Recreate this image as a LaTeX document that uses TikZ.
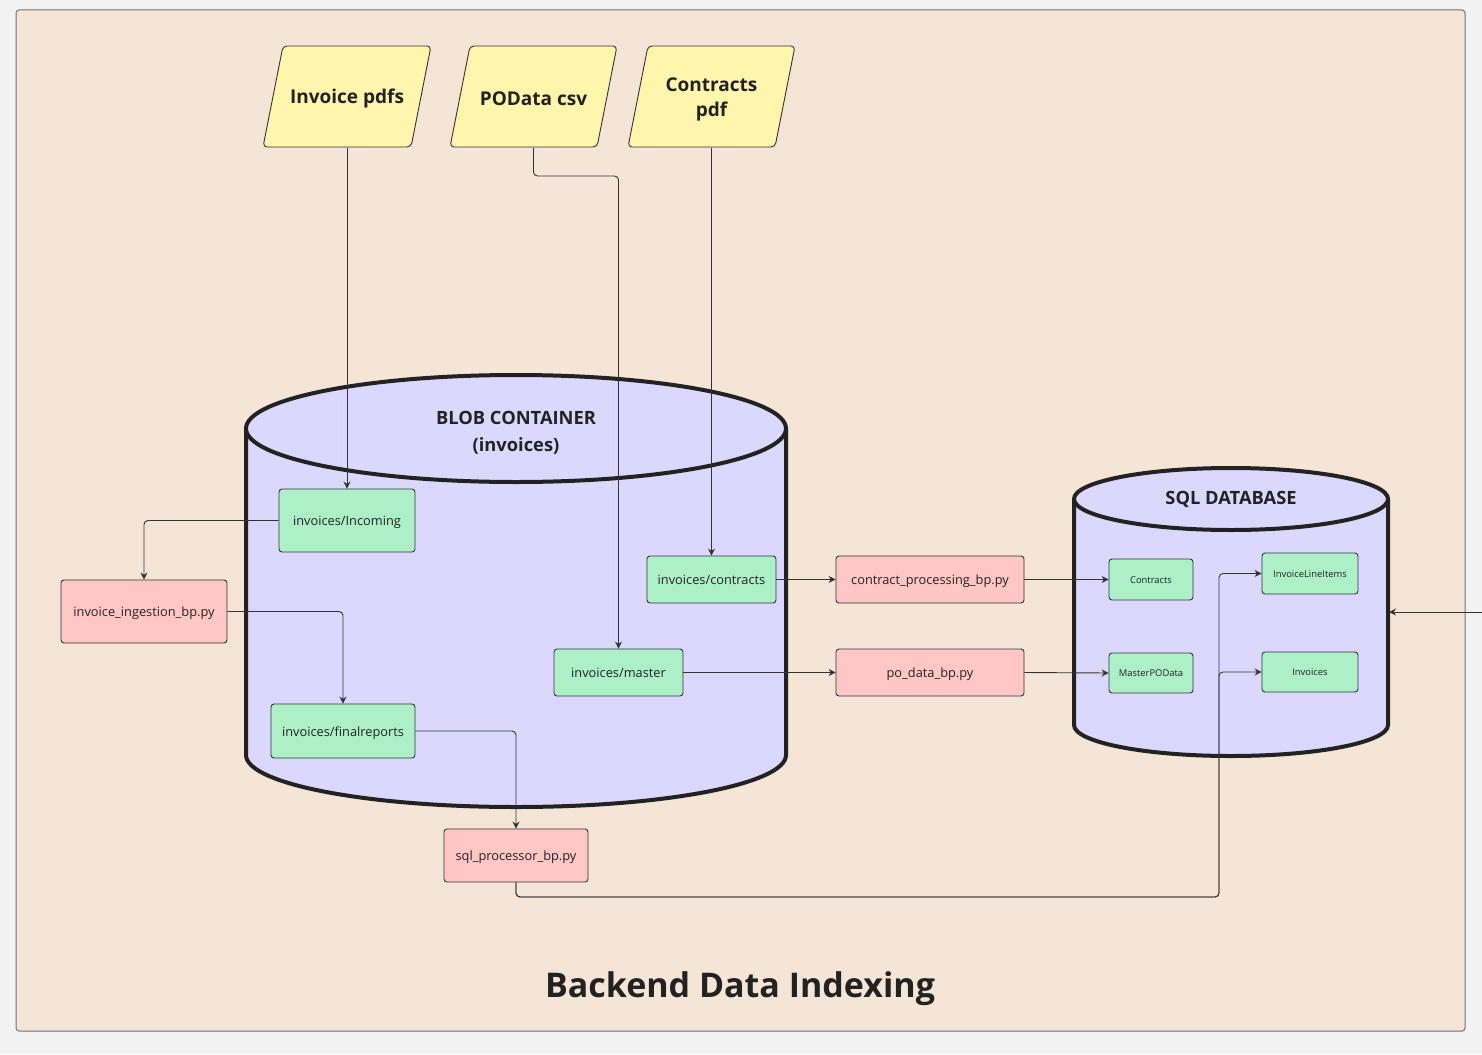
\documentclass[tikz,border=0pt]{standalone}
\usepackage{fontspec}
\setmainfont{Open Sans}
\usetikzlibrary{arrows.meta}
\definecolor{bg}{HTML}{F2F2F2}
\definecolor{framefill}{HTML}{F5E5D7}
\definecolor{lav}{HTML}{DCD8FD}
\definecolor{grn}{HTML}{ADF0C8}
\definecolor{pnk}{HTML}{FFC6C6}
\definecolor{yel}{HTML}{FFF5AD}
\definecolor{ln}{HTML}{333333}
\definecolor{txt}{HTML}{222222}
\tikzset{
  box/.style={draw=ln, rounded corners=3pt, line width=0.9pt, inner sep=0pt, text=txt,
    font=\fontsize{12.8}{15}\selectfont, text height=11pt, text depth=0.5pt},
  gbox/.style={box, fill=grn},
  pbox/.style={box, fill=pnk},
  sbox/.style={gbox, font=\fontsize{9.4}{11}\selectfont, text height=8pt, text depth=0.5pt},
  para/.style={draw=ln, fill=yel, line width=0.9pt, rounded corners=4pt},
  ptext/.style={inner sep=0pt, minimum width=148pt, minimum height=98pt, align=center,
    text=txt, font=\bfseries\fontsize{19}{25}\selectfont},
  arr/.style={draw=ln, line width=0.9pt, rounded corners=4pt, -{Stealth[length=7pt,width=7pt]}},
  cyl/.style={draw=txt, fill=lav, line width=4pt},
  big/.style={text=txt, font=\bfseries\fontsize{18.3}{27}\selectfont, align=center}
}
\begin{document}
\begin{tikzpicture}[x=1pt,y=-1pt]
\useasboundingbox (0,0) rectangle (1482,1054);
\fill[bg] (0,0) rectangle (1482,1054);
\draw[fill=framefill, draw=ln!70, line width=1pt, rounded corners=3pt] (16,10) rectangle (1465,1031);

% Blob cylinder
\fill[lav] (246,428) -- (246,755) arc[start angle=180,end angle=360,x radius=270pt,y radius=52pt] -- (786,428) -- cycle;
\draw[cyl, fill=none] (246,428) -- (246,755) arc[start angle=180,end angle=360,x radius=270pt,y radius=52pt] -- (786,428);
\draw[cyl] (516,428.5) ellipse[x radius=270pt, y radius=53.5pt];
\node[big] (blobtitle) at (516,433) {BLOB CONTAINER\\(invoices)};

% SQL cylinder
\fill[lav] (1074,499) -- (1074,725) arc[start angle=180,end angle=360,x radius=157pt,y radius=31pt] -- (1388,499) -- cycle;
\draw[cyl, fill=none] (1074,499) -- (1074,725) arc[start angle=180,end angle=360,x radius=157pt,y radius=31pt] -- (1388,499);
\draw[cyl] (1231,499) ellipse[x radius=157pt, y radius=31pt];
\node[big] (sqltitle) at (1231,499.5) {SQL DATABASE};

% Parallelograms
\draw[para] (263,147) -- (283,46) -- (431,46) -- (411,147) -- cycle;
\node[ptext] (ip) at (347,99) {Invoice pdfs};
\draw[para] (450,147) -- (470,46) -- (617,46) -- (597,147) -- cycle;
\node[ptext] (po) at (533.5,99) {POData csv};
\draw[para] (628,147) -- (648,46) -- (795,46) -- (775,147) -- cycle;
\node[ptext] (cp) at (711.5,99) {Contracts\\pdf};

% Green boxes
\node[gbox, minimum width=136pt, minimum height=63pt] (inc) at (347,520.5) {invoices/Incoming};
\node[gbox, minimum width=129pt, minimum height=47pt] (con) at (711.5,579.5) {invoices/contracts};
\node[gbox, minimum width=129pt, minimum height=47pt] (mas) at (618.5,672.5) {invoices/master};
\node[gbox, minimum width=144pt, minimum height=54pt] (fin) at (343,731) {invoices/finalreports};

\node[sbox, minimum width=84pt, minimum height=41pt] (tcon) at (1151,579.5) {Contracts};
\node[sbox, minimum width=96pt, minimum height=41pt] (tili) at (1310,573.5) {InvoiceLineItems};
\node[sbox, minimum width=84pt, minimum height=40pt] (tmpo) at (1151,673) {MasterPOData};
\node[sbox, minimum width=96pt, minimum height=40pt] (tinv) at (1310,672) {Invoices};

% Pink boxes
\node[pbox, minimum width=166pt, minimum height=63pt] (ing) at (144,611.5) {invoice\_ingestion\_bp.py};
\node[pbox, minimum width=188pt, minimum height=47pt] (cpr) at (930,579.5) {contract\_processing\_bp.py};
\node[pbox, minimum width=188pt, minimum height=47pt] (pdb) at (930,672.5) {po\_data\_bp.py};
\node[pbox, minimum width=144pt, minimum height=53pt] (sqp) at (516,855.5) {sql\_processor\_bp.py};

% Connectors
\draw[arr] (ip.south) -- (inc.north);
\draw[arr] (po.south) -- (533.5,176) -- (618.5,176) -- (mas.north);
\draw[arr] (cp.south) -- (con.north);
\draw[arr] (inc.west) -- (144,520.5) -- (ing.north);
\draw[arr] (ing.east) -- (343,611.5) -- (fin.north);
\draw[arr] (fin.east) -- (516,731) -- (sqp.north);
\draw[arr] (con.east) -- (cpr.west);
\draw[arr] (mas.east) -- (pdb.west);
\draw[arr] (cpr.east) -- (tcon.west);
\draw[arr] (pdb.east) -- (tmpo.west);
\draw[arr] (sqp.south) -- (516,897) -- (1219,897) -- (1219,573.5) -- (tili.west);
\draw[arr] (sqp.south) -- (516,897) -- (1219,897) -- (1219,672) -- (tinv.west);
\coordinate (ext) at (1482,612);
\coordinate (sqlR) at (1389,612);
\draw[arr] (ext) -- (sqlR);

% Title
\node[text=txt, font=\bfseries\fontsize{34}{40}\selectfont] (title) at (740,989) {Backend Data Indexing};
\end{tikzpicture}
\end{document}
